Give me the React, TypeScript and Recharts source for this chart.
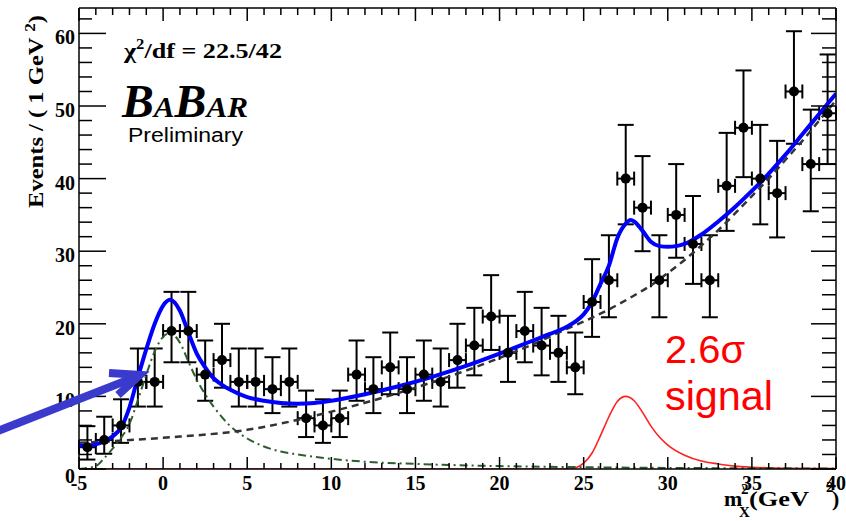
import { ComposedChart, XAxis, YAxis, Scatter, ErrorBar, Line } from 'recharts';

// measured bins, 1 GeV^2 wide
const binCenters = [
  -4.5, -3.5, -2.5, -1.5, -0.5, 0.5, 1.5, 2.5, 3.5, 4.5, 5.5, 6.5, 7.5, 8.5, 9.5,
  10.5, 11.5, 12.5, 13.5, 14.5, 15.5, 16.5, 17.5, 18.5, 19.5, 20.5, 21.5, 22.5, 23.5, 24.5,
  25.5, 26.5, 27.5, 28.5, 29.5, 30.5, 31.5, 32.5, 33.5, 34.5, 35.5, 36.5, 37.5, 38.5, 39.5,
];
const counts = [
  3, 4, 6, 12, 12, 19, 19, 13, 15, 12, 12, 11, 12, 7, 6,
  7, 13, 11, 14, 11, 13, 12, 15, 17, 21, 16, 19, 17, 16, 14,
  23, 26, 40, 36, 26, 35, 31, 26, 39, 47, 40, 38, 52, 42, 49,
];
const errLow = [
  1.7, 1.9, 2.4, 3.4, 3.4, 4.3, 4.3, 3.6, 3.8, 3.4, 3.4, 3.3, 3.4, 2.6, 2.4,
  2.6, 3.6, 3.3, 3.7, 3.3, 3.6, 3.4, 3.8, 4.1, 4.6, 4.0, 4.3, 4.1, 4.0, 3.7,
  4.8, 5.1, 6.3, 6.0, 5.1, 5.9, 5.5, 5.1, 6.2, 6.8, 6.3, 6.1, 7.2, 6.5, 7.0,
];
const errHigh = [
  2.9, 3.2, 3.6, 4.6, 4.6, 5.4, 5.4, 4.7, 5.0, 4.6, 4.6, 4.4, 4.6, 3.8, 3.6,
  3.8, 4.7, 4.4, 4.8, 4.4, 4.7, 4.6, 5.0, 5.2, 5.7, 5.1, 5.4, 5.2, 5.1, 4.8,
  5.9, 6.2, 7.4, 7.1, 6.2, 7.0, 6.6, 6.2, 7.3, 7.9, 7.4, 7.2, 8.3, 7.5, 8.1,
];
const binHalfWidth = 0.5;

// fit curves
const totalX = [
  -5, -4.5, -4, -3.5, -3, -2.5, -2, -1.5, -1, -0.5, 0, 0.4, 1, 1.5, 2, 2.5, 3, 3.5, 4, 5, 6, 7, 8, 9, 10,
  12, 14, 16, 18, 20, 22, 23, 24, 24.5, 25, 25.5, 26, 26.5, 27, 27.5, 27.8, 28, 28.5, 29, 29.5, 30, 30.5,
  31, 32, 33, 34, 35, 36, 37, 38, 39, 40,
];
const totalY = [
  3.2, 3.2, 3.4, 3.8, 4.5, 5.7, 8.5, 12.6, 16.5, 20, 22.5, 23.3, 21.8, 18.8, 15.9, 14, 12.5, 11.6, 10.9, 9.9, 9.4, 9.1, 9.0, 9.1, 9.4,
  10.3, 11.4, 12.7, 14.2, 15.9, 17.7, 18.6, 19.6, 20.3, 21.3, 23, 25.5, 28, 31.8, 33.8, 34.3, 34.1, 32.8, 31.3, 30.7, 30.6, 30.7,
  31, 32.3, 34.1, 36.1, 38.3, 40.7, 43.3, 46.1, 48.9, 51.7,
];
const bkgX = [-5, 0, 5, 10, 15, 20, 22, 24, 25, 26, 27, 28, 29, 30, 31, 32, 33, 34, 35, 36, 37, 38, 39, 40];
const bkgY = [3.6, 4.3, 5.4, 7.9, 11.2, 15.3, 17.2, 19.3, 20.3, 21.4, 22.6, 23.9, 25.3, 27, 28.8, 30.8, 32.9, 35.2, 37.6, 40, 42.6, 45.2, 48, 50.8];
const peakX = [-5, -4.5, -4, -3.5, -3, -2.5, -2, -1.5, -1, -0.5, 0, 0.4, 1, 1.5, 2, 2.5, 3, 4, 5, 6, 7, 8, 10, 12, 15, 20, 25, 30, 35, 40];
const peakY = [0, 0.15, 0.4, 1.5, 2.8, 4.3, 6.2, 9.5, 13, 16.2, 18.2, 18.7, 17.4, 14.8, 12.3, 10.3, 8.6, 5.9, 4.2, 3.1, 2.4, 2.0, 1.4, 1.0, 0.7, 0.4, 0.25, 0.15, 0.1, 0.08];
const signalX = [-5, 23, 24, 24.5, 25, 25.5, 26, 26.5, 27, 27.5, 28, 28.5, 29, 29.5, 30, 31, 32, 33, 34, 35, 37, 40];
const signalY = [0, 0, 0.02, 0.15, 0.8, 2.2, 4.6, 7.2, 9.3, 10, 9.4, 7.8, 5.9, 4.4, 3.3, 1.9, 1.1, 0.7, 0.4, 0.25, 0.1, 0.05];

const xTicks = Array.from({ length: 46 }, (_, i) => i - 5);
const yTicks = Array.from({ length: 32 }, (_, i) => i * 2);

const points = binCenters.map((x, i) => ({
  x,
  y: counts[i],
  ey: [errLow[i], errHigh[i]],
  ex: binHalfWidth,
}));
const toXY = (xs: number[], ys: number[]) => xs.map((x, i) => ({ x, y: ys[i] }));

const TICK_FONT = { fontFamily: '"Liberation Serif", serif', fontWeight: 'bold', fontSize: 20, fill: '#000' };

const BottomTick = (props: any) => {
  const { x, y, payload } = props;
  const major = payload.value % 5 === 0;
  return (
    <g>
      <line x1={x} x2={x} y1={y} y2={y - (major ? 12 : 6)} stroke="#000" strokeWidth={1.5} />
      {major && (
        <text x={x} y={y + 21} textAnchor="middle" {...TICK_FONT}>
          {payload.value}
        </text>
      )}
    </g>
  );
};

const TopTick = (props: any) => {
  const { x, y, payload } = props;
  const major = payload.value % 5 === 0;
  return <line x1={x} x2={x} y1={y} y2={y + (major ? 13 : 7)} stroke="#000" strokeWidth={1.5} />;
};

const LeftTick = (props: any) => {
  const { x, y, payload } = props;
  const major = payload.value % 10 === 0;
  return (
    <g>
      <line x1={x} x2={x + (major ? 27 : 13)} y1={y} y2={y} stroke="#000" strokeWidth={1.5} />
      {major && (
        <text x={x - 4} y={y + (payload.value === 0 ? 14 : 11)} textAnchor="end" {...TICK_FONT}>
          {payload.value}
        </text>
      )}
    </g>
  );
};

const RightTick = (props: any) => {
  const { x, y, payload } = props;
  const major = payload.value % 10 === 0;
  return <line x1={x} x2={x - (major ? 25 : 14)} y1={y} y2={y} stroke="#000" strokeWidth={1.5} />;
};

const Dot = (props: any) => <circle cx={props.cx} cy={props.cy} r={5} fill="#000" />;

const AXIS_LINE = { stroke: '#000', strokeWidth: 1.5 };

export default function App() {
  return (
    <div style={{ position: 'absolute', left: 0, top: 0, width: 846, height: 521, background: '#fff' }}>
      <ComposedChart width={846} height={521} margin={{ top: 7, right: 9, bottom: 51, left: 78 }}>
        <XAxis
          dataKey="x"
          type="number"
          domain={[-5, 40]}
          ticks={xTicks}
          interval={0}
          allowDataOverflow
          height={1}
          tickSize={0}
          tickMargin={0}
          tickLine={false}
          axisLine={AXIS_LINE}
          tick={BottomTick}
        />
        <XAxis
          xAxisId="top"
          orientation="top"
          dataKey="x"
          type="number"
          domain={[-5, 40]}
          ticks={xTicks}
          interval={0}
          allowDataOverflow
          height={1}
          tickSize={0}
          tickMargin={0}
          tickLine={false}
          axisLine={AXIS_LINE}
          tick={TopTick}
        />
        <YAxis
          dataKey="y"
          type="number"
          domain={[0, 63.5]}
          ticks={yTicks}
          interval={0}
          allowDataOverflow
          width={1}
          tickSize={0}
          tickMargin={0}
          tickLine={false}
          axisLine={AXIS_LINE}
          tick={LeftTick}
        />
        <YAxis
          yAxisId="right"
          orientation="right"
          type="number"
          domain={[0, 63.5]}
          ticks={yTicks}
          interval={0}
          allowDataOverflow
          width={1}
          tickSize={0}
          tickMargin={0}
          tickLine={false}
          axisLine={AXIS_LINE}
          tick={RightTick}
        />

        <Scatter data={points} dataKey="y" shape={Dot} isAnimationActive={false}>
          <ErrorBar dataKey="ey" direction="y" width={8} stroke="#000" strokeWidth={2} isAnimationActive={false} />
          <ErrorBar dataKey="ex" direction="x" width={7} stroke="#000" strokeWidth={2} isAnimationActive={false} />
        </Scatter>

        <Line
          data={toXY(signalX, signalY)}
          dataKey="y"
          type="monotone"
          stroke="#ff2020"
          strokeWidth={1.6}
          dot={false}
          activeDot={false}
          isAnimationActive={false}
        />
        <Line
          data={toXY(peakX, peakY)}
          dataKey="y"
          type="monotone"
          stroke="#2e5e2e"
          strokeWidth={2}
          strokeDasharray="8 4 2 4"
          dot={false}
          activeDot={false}
          isAnimationActive={false}
        />
        <Line
          data={toXY(bkgX, bkgY)}
          dataKey="y"
          type="monotone"
          stroke="#333"
          strokeWidth={2.5}
          strokeDasharray="7 5"
          dot={false}
          activeDot={false}
          isAnimationActive={false}
        />
        <Line
          data={toXY(totalX, totalY)}
          dataKey="y"
          type="monotone"
          stroke="#0000ff"
          strokeWidth={4}
          dot={false}
          activeDot={false}
          isAnimationActive={false}
        />
      </ComposedChart>

      <svg
        width={846}
        height={521}
        style={{ position: 'absolute', left: 0, top: 0, pointerEvents: 'none' }}
      >
        <text
          x={124}
          y={58}
          textLength={158}
          lengthAdjust="spacingAndGlyphs"
          fill="#000"
          fontFamily='"Liberation Serif", serif'
          fontWeight="bold"
          fontSize={22}
        >
          χ<tspan dy={-9} fontSize={14}>2</tspan>
          <tspan dy={9}>/df = 22.5/42</tspan>
        </text>
        <text
          x={122}
          y={117}
          textLength={126}
          lengthAdjust="spacingAndGlyphs"
          fill="#000"
          fontFamily='"Liberation Serif", serif'
          fontWeight="bold"
          fontStyle="italic"
          fontSize={46}
        >
          B<tspan fontSize={30}>A</tspan>B<tspan fontSize={30}>AR</tspan>
        </text>
        <text
          x={128}
          y={142}
          textLength={115}
          lengthAdjust="spacingAndGlyphs"
          fill="#000"
          fontFamily='"Liberation Sans", Arial, sans-serif'
          fontSize={20}
        >
          Preliminary
        </text>

        <text x={665} y={363} textLength={80} lengthAdjust="spacingAndGlyphs" fill="#ff0000"
          fontFamily='"Liberation Sans", Arial, sans-serif' fontSize={39}>
          2.6σ
        </text>
        <text x={665} y={410} textLength={108} lengthAdjust="spacingAndGlyphs" fill="#ff0000"
          fontFamily='"Liberation Sans", Arial, sans-serif' fontSize={40}>
          signal
        </text>

        <text
          transform="translate(43,208) rotate(-90)"
          textLength={193}
          lengthAdjust="spacingAndGlyphs"
          fill="#000"
          fontFamily='"Liberation Serif", serif'
          fontWeight="bold"
          fontSize={20}
        >
          Events / ( 1 GeV <tspan dy={-8} fontSize={14}>2</tspan>
          <tspan dy={8}>)</tspan>
        </text>

        <g fontFamily='"Liberation Serif", serif' fontWeight="bold" fill="#000">
          <text x={724} y={506} fontSize={22}>m</text>
          <text x={741} y={494} fontSize={15}>2</text>
          <text x={739} y={517} fontSize={15}>X</text>
          <text x={749} y={506} fontSize={22} textLength={60} lengthAdjust="spacingAndGlyphs">(GeV</text>
          <text x={826} y={492} fontSize={15}>2</text>
          <text x={832} y={506} fontSize={22}>)</text>
        </g>

        <g stroke="#3a3acd" strokeWidth={8} fill="none">
          <line x1={-10} y1={434} x2={138} y2={376} />
          <polyline points="109,373 140,375 118,395" strokeLinejoin="miter" />
        </g>
      </svg>
    </div>
  );
}
